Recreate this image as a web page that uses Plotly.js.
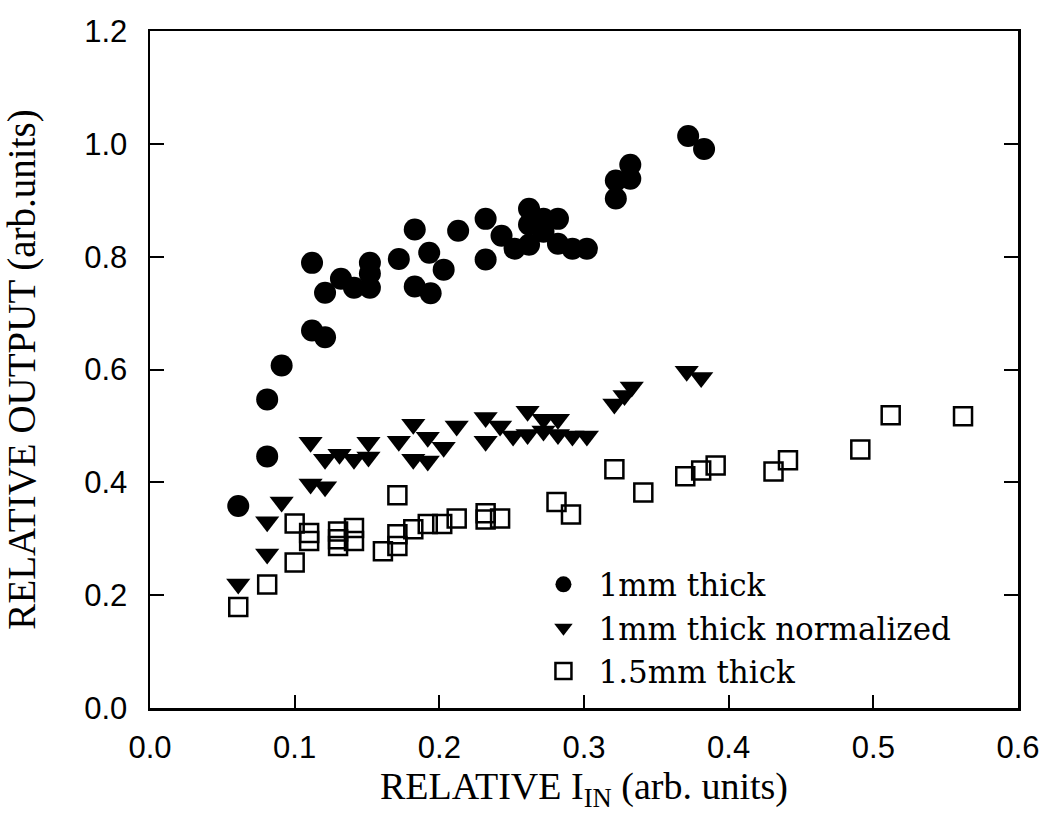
<!DOCTYPE html>
<html>
<head>
<meta charset="utf-8">
<script src="https://cdn.plot.ly/plotly-3.0.1.min.js"></script>
<style>html,body{margin:0;padding:0;background:#fff;}#chart{width:1046px;height:826px;}</style>
</head>
<body>
<div id="chart"></div>
<script>
// 1mm thick (filled circles)
const x1mm = [0.061,0.081,0.081,0.091,0.112,0.121,0.112,0.121,0.132,0.141,0.152,0.152,0.152,0.172,0.183,0.193,0.203,0.183,0.194,0.213,0.232,0.232,0.243,0.252,0.262,0.262,0.262,0.272,0.282,0.272,0.282,0.292,0.302,0.322,0.322,0.332,0.332,0.372,0.383];
const y1mm = [0.358,0.446,0.547,0.607,0.669,0.657,0.789,0.736,0.761,0.745,0.789,0.770,0.745,0.796,0.848,0.807,0.777,0.747,0.735,0.846,0.867,0.795,0.837,0.814,0.885,0.857,0.821,0.867,0.867,0.844,0.823,0.814,0.814,0.903,0.935,0.963,0.938,1.014,0.991];

// 1mm thick normalized (filled down-triangles)
const xNorm = [0.061,0.081,0.081,0.091,0.111,0.121,0.111,0.121,0.131,0.141,0.151,0.151,0.172,0.182,0.192,0.203,0.182,0.192,0.212,0.232,0.232,0.242,0.251,0.261,0.261,0.272,0.272,0.282,0.282,0.292,0.302,0.321,0.328,0.333,0.371,0.381];
const yNorm = [0.220,0.273,0.330,0.365,0.397,0.392,0.471,0.441,0.450,0.441,0.471,0.445,0.473,0.503,0.480,0.462,0.441,0.438,0.500,0.515,0.473,0.500,0.482,0.526,0.485,0.512,0.491,0.512,0.485,0.482,0.482,0.539,0.554,0.569,0.597,0.586];

// 1.5mm thick (open squares)
const x15mm = [0.061,0.081,0.100,0.100,0.110,0.110,0.130,0.130,0.130,0.141,0.141,0.161,0.171,0.171,0.171,0.182,0.192,0.202,0.212,0.232,0.232,0.242,0.281,0.291,0.321,0.341,0.370,0.381,0.391,0.431,0.441,0.491,0.512,0.562];
const y15mm = [0.179,0.219,0.258,0.327,0.310,0.296,0.313,0.299,0.287,0.319,0.296,0.278,0.377,0.308,0.287,0.317,0.326,0.326,0.336,0.345,0.334,0.336,0.365,0.343,0.423,0.382,0.411,0.421,0.430,0.419,0.439,0.458,0.519,0.517];

const seriesNames = ["1mm thick", "1mm thick normalized", "1.5mm thick"];
const xTickVals = [0, 0.1, 0.2, 0.3, 0.4, 0.5, 0.6];
const yTickVals = [0, 0.2, 0.4, 0.6, 0.8, 1.0, 1.2];

const traces = [
  {x: x1mm, y: y1mm, name: seriesNames[0], type: "scatter", mode: "markers",
   marker: {symbol: "circle", size: 22, color: "#000"}},
  {x: xNorm, y: yNorm, name: seriesNames[1], type: "scatter", mode: "markers",
   marker: {symbol: "triangle-down", size: 21, color: "#000"}},
  {x: x15mm, y: y15mm, name: seriesNames[2], type: "scatter", mode: "markers",
   marker: {symbol: "square-open", size: 18, color: "#000", line: {width: 2.5, color: "#000"}}}
];

const layout = {
  width: 1046, height: 826,
  margin: {l: 150, r: 28, t: 31, b: 118},
  paper_bgcolor: "#fff", plot_bgcolor: "#fff",
  showlegend: true,
  legend: {x: 0.436, y: 0.222, xanchor: "left", yanchor: "top",
           bgcolor: "rgba(0,0,0,0)", itemwidth: 60,
           font: {family: "DejaVu Serif", size: 31, color: "#000"}},
  xaxis: {
    range: [0, 0.6], tickvals: xTickVals, tickformat: ".1f",
    ticks: "inside", ticklen: 13, tickwidth: 2, tickcolor: "#000",
    showline: true, linewidth: 2.5, linecolor: "#000", mirror: true,
    showgrid: false, zeroline: false,
    ticklabelstandoff: 10,
    tickfont: {family: "Liberation Sans", size: 31, color: "#000"},
    title: {text: "RELATIVE I<sub>IN</sub> (arb. units)", standoff: 0,
            font: {family: "Liberation Serif", size: 38, color: "#000"}}
  },
  yaxis: {
    range: [0, 1.2], tickvals: yTickVals, tickformat: ".1f",
    ticks: "inside", ticklen: 14, tickwidth: 2, tickcolor: "#000",
    showline: true, linewidth: 2.5, linecolor: "#000", mirror: "ticks",
    showgrid: false, zeroline: false,
    ticklabelstandoff: 14,
    tickfont: {family: "Liberation Sans", size: 31, color: "#000"},
    title: {text: "RELATIVE OUTPUT (arb.units)", standoff: 38,
            font: {family: "Liberation Serif", size: 39, color: "#000"}}
  }
};

Plotly.newPlot("chart", traces, layout, {displayModeBar: false, staticPlot: true});
</script>
</body>
</html>
